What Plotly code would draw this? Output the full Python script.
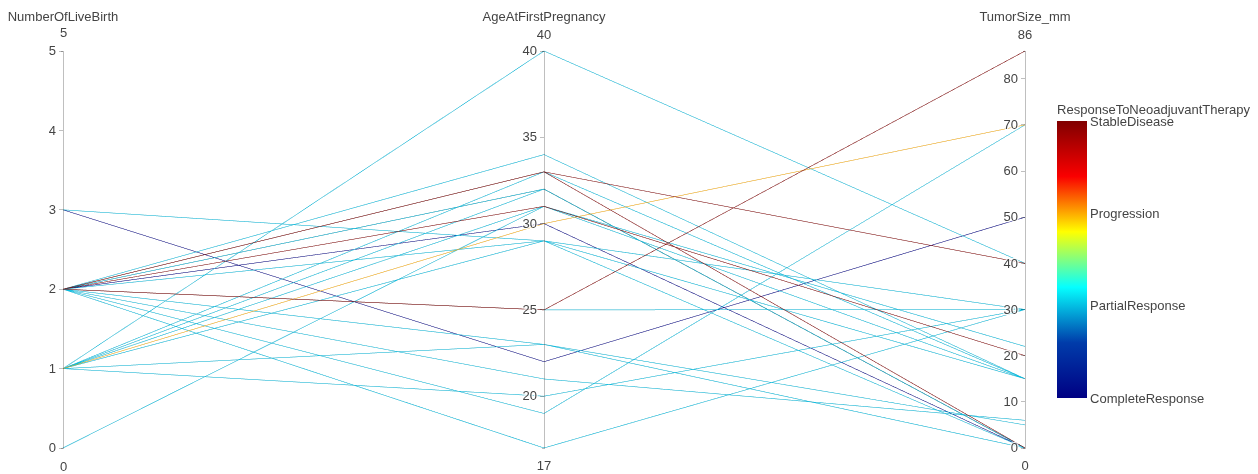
import plotly.graph_objects as go

categories = ["CompleteResponse", "PartialResponse", "Progression", "StableDisease"]

live_births = [1, 2, 2, 2, 2, 3, 2, 1, 2, 2, 2, 1, 2, 1, 2, 0, 2, 2, 2, 3, 1, 1, 1, 1, 2]
age_first_preg = [40, 25, 33, 33, 31, 22, 30, 30, 25, 17, 19, 20, 23, 23, 21, 31, 34, 32, 29, 29, 33, 32, 29, 31, 32]
tumor_size = [40, 86, 40, 0, 20, 50, 0, 70, 30, 30, 70, 30, 5, 0, 6, 22, 15, 0, 15, 30, 15, 0, 0, 15, 0]
response = ["PartialResponse", "StableDisease", "StableDisease", "StableDisease", "StableDisease",
            "CompleteResponse", "CompleteResponse", "Progression", "PartialResponse", "PartialResponse",
            "PartialResponse", "PartialResponse", "PartialResponse", "PartialResponse", "PartialResponse",
            "PartialResponse", "PartialResponse", "PartialResponse", "PartialResponse", "PartialResponse",
            "PartialResponse", "PartialResponse", "PartialResponse", "PartialResponse", "PartialResponse"]

birth_range = [0, 5]
birth_ticks = [0, 1, 2, 3, 4, 5]
age_range = [17, 40]
tumor_range = [0, 86]

codes = [categories.index(r) for r in response]

FONT = "Liberation Sans, Arial, sans-serif"
TXT = "#444"

W, H = 1258, 474
ML, MR, MT, MB = 55, 241, 41, 32

fig = go.Figure(go.Parcoords(
    line=dict(
        color=codes,
        colorscale="Jet",
        cmin=0, cmax=3,
        showscale=True,
        colorbar=dict(
            title=dict(text="ResponseToNeoadjuvantTherapy", side="top",
                       font=dict(family=FONT, size=13, color=TXT)),
            tickvals=[0, 1, 2, 3],
            ticktext=categories,
            tickfont=dict(family=FONT, size=13, color=TXT),
            xref="container", x=0.826, xanchor="left",
            len=0.79,
            y=0.50,
            thickness=30,
        ),
    ),
    labelfont=dict(family=FONT, size=13, color=TXT),
    tickfont=dict(family=FONT, size=13, color=TXT),
    rangefont=dict(family=FONT, size=13, color=TXT),
    dimensions=[
        dict(label="NumberOfLiveBirth", values=live_births, range=birth_range, tickvals=birth_ticks),
        dict(label="AgeAtFirstPregnancy", values=age_first_preg, range=age_range),
        dict(label="TumorSize_mm", values=tumor_size, range=tumor_range),
    ],
))

# extent labels for the first axis (hidden by plotly when tickvals are set)
for val, ypos in [(birth_range[1], 1.04), (birth_range[0], -0.04)]:
    fig.add_annotation(
        x=0, y=ypos, xref="paper", yref="paper",
        text=str(val), showarrow=False, xanchor="center", yanchor="middle",
        font=dict(family=FONT, size=13, color=TXT),
    )

fig.update_layout(
    width=W, height=H,
    margin=dict(l=ML, r=MR, t=MT, b=MB),
    paper_bgcolor="white",
    plot_bgcolor="white",
    font=dict(family=FONT, size=13, color=TXT),
)

fig.write_html("out.html")
